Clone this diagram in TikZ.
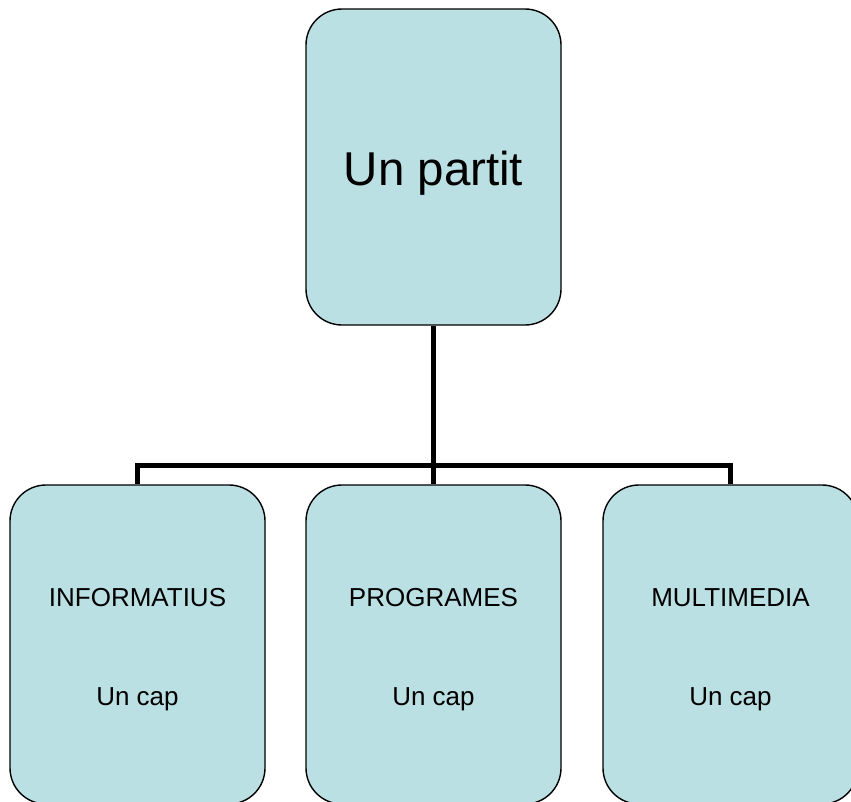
\documentclass[tikz,border=0pt]{standalone}
\usepackage{fontspec}
\setmainfont{Liberation Sans}
\definecolor{boxfill}{RGB}{187,224,227}

\begin{document}
\begin{tikzpicture} [x=1pt, y=-1pt,
                    box_style/.style={draw=black, line width=1.4pt, fill=boxfill, rounded corners=36pt,
                                      minimum width=255pt, minimum height=316pt, inner sep=0pt},
                    text_style/.style={anchor=base, inner sep=0pt, font=\fontsize{26}{31}\selectfont},
                    edge_style/.style={draw=black, line width=5pt}]
                    \useasboundingbox (0,0) rectangle (851,801);
                    \clip (0,0) rectangle (851,801);
                    \node[box_style] (partit) at (433.5,167) {};
                    \node[box_style, minimum height=319pt] (info) at (137.5,644.5) {};
                    \node[box_style, minimum height=319pt] (prog) at (433.5,644.5) {};
                    \node[box_style, minimum height=319pt] (multi) at (730.5,644.5) {};
                    \node[text_style, font=\fontsize{47.5}{57}\selectfont] (partit_txt) at (433.5,185) {Un partit};
                    \node[text_style] (info_txt) at (137.5,606.5) {INFORMATIUS};
                    \node[text_style] (info_cap) at (137.5,705) {Un cap};
                    \node[text_style] (prog_txt) at (433.5,606.5) {PROGRAMES};
                    \node[text_style] (prog_cap) at (433.5,705) {Un cap};
                    \node[text_style] (multi_txt) at (730.5,606.5) {MULTIMEDIA};
                    \node[text_style] (multi_cap) at (730.5,705) {Un cap};
                    \coordinate (bar) at (433.5,465);
                    \draw[edge_style] (partit.south) -- (bar);
                    \draw[edge_style] (bar) -| (info.north);
                    \draw[edge_style] (bar) -- (prog.north);
                    \draw[edge_style] (bar) -| (multi.north);
                \end{tikzpicture}
\end{document}
